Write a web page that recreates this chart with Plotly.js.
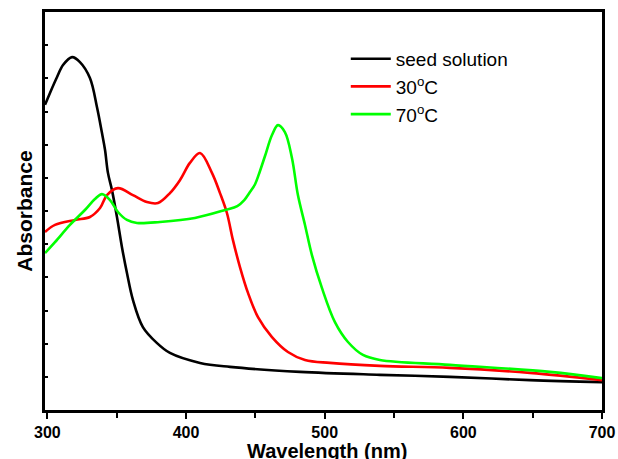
<!DOCTYPE html>
<html>
<head>
<meta charset="utf-8">
<script src="https://cdn.plot.ly/plotly-3.0.1.min.js"></script>
<style>html,body{margin:0;padding:0;background:#fff;}#chart{width:618px;height:459px;}</style>
</head>
<body>
<div id="chart"></div>
<script>
// Wavelength (nm) and absorbance (a.u.)
const seedX = [298.3, 301.9, 307.0, 311.3, 317.8, 323.5, 330.7, 335.8, 339.4, 341.6, 343.7, 346.6, 350.2, 353.8, 357.4, 361.7, 368.9, 379.0, 388.4, 410.1, 431.7, 482.2, 539.8, 590.3, 648.0, 700];
const seedY = [0.920, 0.956, 1.004, 1.040, 1.064, 1.049, 1.001, 0.913, 0.835, 0.784, 0.715, 0.663, 0.582, 0.491, 0.413, 0.332, 0.250, 0.202, 0.172, 0.142, 0.130, 0.115, 0.106, 0.100, 0.090, 0.084];

const t30X = [298.3, 305.5, 320.0, 330.7, 338.0, 343.0, 350.9, 361.7, 371.8, 379.8, 388.4, 395.6, 402.8, 410.1, 418.7, 424.5, 429.5, 433.8, 438.9, 444.7, 451.9, 462.0, 473.5, 485.8, 503.8, 539.8, 590.3, 648.0, 700];
const t30Y = [0.537, 0.558, 0.573, 0.582, 0.609, 0.648, 0.669, 0.648, 0.627, 0.624, 0.654, 0.693, 0.745, 0.775, 0.715, 0.654, 0.594, 0.513, 0.431, 0.353, 0.280, 0.220, 0.175, 0.151, 0.142, 0.133, 0.127, 0.112, 0.090];

const t70X = [298.3, 305.5, 316.3, 327.1, 334.3, 339.4, 345.2, 350.9, 357.4, 364.6, 381.2, 406.4, 428.1, 437.0, 442.0, 446.1, 449.7, 453.3, 456.9, 462.0, 466.3, 471.3, 476.4, 480.7, 485.8, 490.8, 498.0, 507.4, 516.8, 527.6, 539.8, 590.3, 662.4, 700];
const t70Y = [0.473, 0.506, 0.558, 0.603, 0.636, 0.651, 0.633, 0.597, 0.573, 0.564, 0.567, 0.579, 0.603, 0.615, 0.633, 0.657, 0.680, 0.720, 0.765, 0.829, 0.859, 0.838, 0.760, 0.648, 0.558, 0.467, 0.368, 0.265, 0.205, 0.166, 0.151, 0.136, 0.115, 0.096];

const seriesNames = ['seed solution', '30<sup>o</sup>C', '70<sup>o</sup>C'];
const seriesColors = ['#000000', '#ff0000', '#00ff00'];
const xTicks = [300, 400, 500, 600, 700];
const xTitle = 'Wavelength (nm)';
const yTitle = 'Absorbance';

const xs = [seedX, t30X, t70X];
const ys = [seedY, t30Y, t70Y];
const traces = xs.map((x, i) => ({
  type: 'scatter', mode: 'lines', x: x, y: ys[i], name: seriesNames[i],
  line: {color: seriesColors[i], width: 2.6, shape: 'spline', smoothing: 1}
}));

const layout = {
  width: 618, height: 459,
  margin: {l: 45, r: 16, t: 12, b: 49},
  paper_bgcolor: '#fff', plot_bgcolor: '#fff',
  font: {family: 'Liberation Sans, Arial, sans-serif', color: '#000'},
  showlegend: true,
  legend: {x: 0.54, y: 0.93, xanchor: 'left', yanchor: 'top', bgcolor: 'rgba(0,0,0,0)',
           font: {size: 19, color: '#000'}, itemwidth: 40},
  xaxis: {
    range: [298.3, 700], tickvals: xTicks, ticktext: xTicks.map(String),
    ticks: 'outside', ticklen: 6, tickwidth: 2, tickcolor: '#000',
    minor: {dtick: 50, tick0: 300, ticks: 'outside', ticklen: 5, tickwidth: 2, tickcolor: '#000'},
    showline: true, linewidth: 3, linecolor: '#000', mirror: true,
    showgrid: false, zeroline: false,
    tickfont: {size: 16, color: '#000', weight: 'bold'}
  },
  yaxis: {
    range: [0, 1.2], dtick: 0.1, tick0: 0,
    ticks: 'inside', ticklen: 3, tickwidth: 2, tickcolor: '#000',
    showticklabels: false,
    showline: true, linewidth: 3, linecolor: '#000', mirror: true,
    showgrid: false, zeroline: false,
    title: {text: '<b>' + yTitle + '</b>', font: {size: 21, color: '#000'}, standoff: 4}
  },
  annotations: [{
    text: '<b>' + xTitle + '</b>', xref: 'paper', yref: 'paper', x: 0.507, y: 0,
    xanchor: 'center', yanchor: 'top', yshift: -28, showarrow: false,
    font: {size: 20, color: '#000'}
  }]
};

Plotly.newPlot('chart', traces, layout, {displayModeBar: false, staticPlot: true});
</script>
</body>
</html>
